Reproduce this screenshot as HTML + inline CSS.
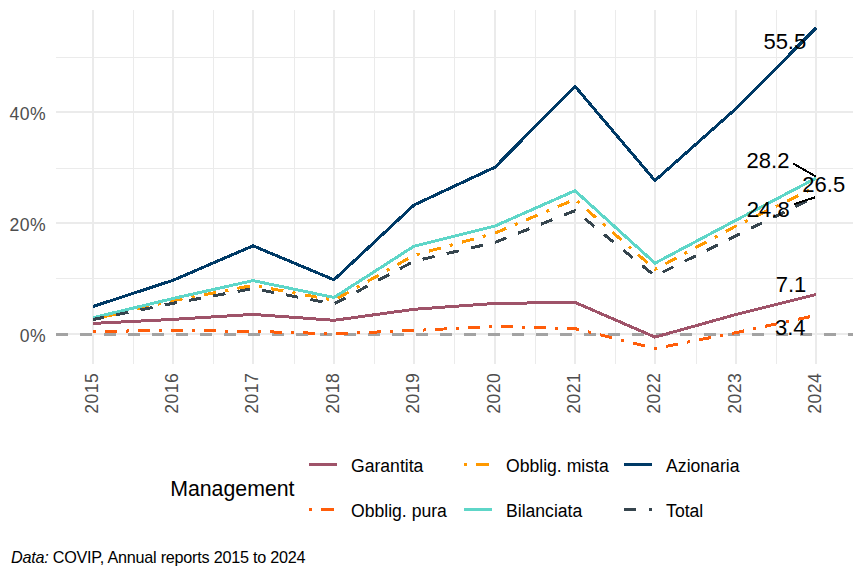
<!DOCTYPE html>
<html><head><meta charset="utf-8"><title>Cumulative returns by management line</title>
<style>html,body{margin:0;padding:0;background:#fff;}svg{display:block;}</style>
</head><body>
<svg width="864" height="576" viewBox="0 0 864 576"><g shape-rendering="crispEdges">
<rect width="864" height="576" fill="#ffffff"/>
<line x1="56" x2="853" y1="57.5" y2="57.5" stroke="#EBEBEB" stroke-width="1"/>
<line x1="56" x2="853" y1="168.5" y2="168.5" stroke="#EBEBEB" stroke-width="1"/>
<line x1="56" x2="853" y1="278.5" y2="278.5" stroke="#EBEBEB" stroke-width="1"/>
<line x1="133.50" x2="133.50" y1="10" y2="364" stroke="#EBEBEB" stroke-width="1"/>
<line x1="213.50" x2="213.50" y1="10" y2="364" stroke="#EBEBEB" stroke-width="1"/>
<line x1="294.50" x2="294.50" y1="10" y2="364" stroke="#EBEBEB" stroke-width="1"/>
<line x1="374.50" x2="374.50" y1="10" y2="364" stroke="#EBEBEB" stroke-width="1"/>
<line x1="454.50" x2="454.50" y1="10" y2="364" stroke="#EBEBEB" stroke-width="1"/>
<line x1="535.50" x2="535.50" y1="10" y2="364" stroke="#EBEBEB" stroke-width="1"/>
<line x1="615.50" x2="615.50" y1="10" y2="364" stroke="#EBEBEB" stroke-width="1"/>
<line x1="696.50" x2="696.50" y1="10" y2="364" stroke="#EBEBEB" stroke-width="1"/>
<line x1="776.50" x2="776.50" y1="10" y2="364" stroke="#EBEBEB" stroke-width="1"/>
<line x1="56" x2="853" y1="112.0" y2="112.0" stroke="#EBEBEB" stroke-width="2"/>
<line x1="56" x2="853" y1="223.0" y2="223.0" stroke="#EBEBEB" stroke-width="2"/>
<line x1="56" x2="853" y1="334.0" y2="334.0" stroke="#EBEBEB" stroke-width="2"/>
<line x1="93.00" x2="93.00" y1="10" y2="364" stroke="#EBEBEB" stroke-width="2"/>
<line x1="173.00" x2="173.00" y1="10" y2="364" stroke="#EBEBEB" stroke-width="2"/>
<line x1="253.00" x2="253.00" y1="10" y2="364" stroke="#EBEBEB" stroke-width="2"/>
<line x1="334.00" x2="334.00" y1="10" y2="364" stroke="#EBEBEB" stroke-width="2"/>
<line x1="414.00" x2="414.00" y1="10" y2="364" stroke="#EBEBEB" stroke-width="2"/>
<line x1="495.00" x2="495.00" y1="10" y2="364" stroke="#EBEBEB" stroke-width="2"/>
<line x1="575.00" x2="575.00" y1="10" y2="364" stroke="#EBEBEB" stroke-width="2"/>
<line x1="655.00" x2="655.00" y1="10" y2="364" stroke="#EBEBEB" stroke-width="2"/>
<line x1="736.00" x2="736.00" y1="10" y2="364" stroke="#EBEBEB" stroke-width="2"/>
<line x1="816.00" x2="816.00" y1="10" y2="364" stroke="#EBEBEB" stroke-width="2"/>
<line x1="56" x2="853" y1="334.5" y2="334.5" stroke="#A3A3A3" stroke-width="3" stroke-dasharray="12 12"/>
<polyline points="93.00,323.40 173.00,319.40 253.00,314.40 334.00,320.30 414.00,309.30 495.00,303.40 575.00,302.40 655.00,337.10 736.00,314.50 816.00,294.50" fill="none" stroke="#9F5369" stroke-width="3.0" stroke-linejoin="round" stroke-linecap="butt"/>
<line x1="93.00" y1="331.40" x2="173.00" y2="330.50" stroke="#FF5D0A" stroke-width="3.0" stroke-dasharray="3.000 9.001 12.001 9.001" stroke-dashoffset="0.000"/>
<line x1="173.00" y1="330.50" x2="253.00" y2="331.40" stroke="#FF5D0A" stroke-width="3.0" stroke-dasharray="3.000 9.001 12.001 9.001" stroke-dashoffset="14.001"/>
<line x1="253.00" y1="331.40" x2="334.00" y2="333.75" stroke="#FF5D0A" stroke-width="3.0" stroke-dasharray="3.001 9.004 12.005 9.004" stroke-dashoffset="28.012"/>
<line x1="334.00" y1="333.75" x2="414.00" y2="330.50" stroke="#FF5D0A" stroke-width="3.0" stroke-dasharray="3.002 9.007 12.010 9.007" stroke-dashoffset="10.008"/>
<line x1="414.00" y1="330.50" x2="495.00" y2="326.40" stroke="#FF5D0A" stroke-width="3.0" stroke-dasharray="3.004 9.012 12.015 9.012" stroke-dashoffset="24.031"/>
<line x1="495.00" y1="326.40" x2="575.00" y2="328.60" stroke="#FF5D0A" stroke-width="3.0" stroke-dasharray="3.001 9.003 12.005 9.003" stroke-dashoffset="6.002"/>
<line x1="575.00" y1="328.60" x2="655.00" y2="348.50" stroke="#FF5D0A" stroke-width="3.0" stroke-dasharray="3.091 9.274 12.366 9.274" stroke-dashoffset="20.609"/>
<line x1="655.00" y1="348.50" x2="736.00" y2="332.60" stroke="#FF5D0A" stroke-width="3.0" stroke-dasharray="3.057 9.172 12.229 9.172" stroke-dashoffset="1.019"/>
<line x1="736.00" y1="332.60" x2="816.00" y2="315.40" stroke="#FF5D0A" stroke-width="3.0" stroke-dasharray="3.069 9.206 12.274 9.206" stroke-dashoffset="16.366"/>
<polyline points="93.00,319.30 173.00,300.70 253.00,285.40 334.00,300.30 414.00,255.30 495.00,233.10 575.00,199.30 655.00,269.40 736.00,226.00 816.00,187.00" fill="none" stroke="#FF9900" stroke-width="3.0" stroke-linejoin="round" stroke-linecap="butt" stroke-dasharray="3.11 9.33 12.44 9.33" stroke-dashoffset="1.55"/>
<polyline points="93.00,317.70 173.00,298.50 253.00,280.60 334.00,297.50 414.00,246.20 495.00,226.00 575.00,190.70 655.00,263.20 736.00,220.20 816.00,178.20" fill="none" stroke="#5ED6C8" stroke-width="3.0" stroke-linejoin="round" stroke-linecap="butt"/>
<polyline points="93.00,306.50 173.00,280.30 253.00,245.80 334.00,279.80 414.00,205.00 495.00,167.20 575.00,86.30 655.00,180.60 736.00,108.60 816.00,27.90" fill="none" stroke="#003A66" stroke-width="3.0" stroke-linejoin="round" stroke-linecap="butt"/>
<polyline points="93.00,319.50 173.00,303.30 253.00,288.60 334.00,304.00 414.00,261.20 495.00,242.40 575.00,210.70 655.00,276.00 736.00,235.70 816.00,196.50" fill="none" stroke="#36454E" stroke-width="3.0" stroke-linejoin="round" stroke-linecap="butt" stroke-dasharray="12.36 12.36" stroke-dashoffset="1.05"/>
<line x1="793.3" y1="163.6" x2="815.6" y2="176.4" stroke="#000" stroke-width="2"/>
<line x1="794.2" y1="204.0" x2="815.3" y2="197.3" stroke="#000" stroke-width="2"/>
<text x="763.4" y="49.3" font-family="'Liberation Sans', Arial, sans-serif" font-size="22" fill="#000">55.5</text>
<text x="746.6" y="167.8" font-family="'Liberation Sans', Arial, sans-serif" font-size="22" fill="#000">28.2</text>
<text x="802.3" y="192.3" font-family="'Liberation Sans', Arial, sans-serif" font-size="22" fill="#000">26.5</text>
<text x="746.8" y="217.3" font-family="'Liberation Sans', Arial, sans-serif" font-size="22" fill="#000">24.8</text>
<text x="775.7" y="291.7" font-family="'Liberation Sans', Arial, sans-serif" font-size="22" fill="#000">7.1</text>
<text x="775.0" y="335.1" font-family="'Liberation Sans', Arial, sans-serif" font-size="22" fill="#000">3.4</text>
<text x="46.0" y="119.7" font-family="'Liberation Sans', Arial, sans-serif" font-size="17.6" letter-spacing="0.4" fill="#4D4D4D" text-anchor="end">40%</text>
<text x="46.0" y="230.7" font-family="'Liberation Sans', Arial, sans-serif" font-size="17.6" letter-spacing="0.4" fill="#4D4D4D" text-anchor="end">20%</text>
<text x="46.0" y="341.7" font-family="'Liberation Sans', Arial, sans-serif" font-size="17.6" letter-spacing="0.4" fill="#4D4D4D" text-anchor="end">0%</text>
<text transform="translate(97.60,372.9) rotate(-90)" font-family="'Liberation Sans', Arial, sans-serif" font-size="17.6" letter-spacing="0.4" fill="#4D4D4D" text-anchor="end">2015</text>
<text transform="translate(177.60,372.9) rotate(-90)" font-family="'Liberation Sans', Arial, sans-serif" font-size="17.6" letter-spacing="0.4" fill="#4D4D4D" text-anchor="end">2016</text>
<text transform="translate(257.60,372.9) rotate(-90)" font-family="'Liberation Sans', Arial, sans-serif" font-size="17.6" letter-spacing="0.4" fill="#4D4D4D" text-anchor="end">2017</text>
<text transform="translate(338.60,372.9) rotate(-90)" font-family="'Liberation Sans', Arial, sans-serif" font-size="17.6" letter-spacing="0.4" fill="#4D4D4D" text-anchor="end">2018</text>
<text transform="translate(418.60,372.9) rotate(-90)" font-family="'Liberation Sans', Arial, sans-serif" font-size="17.6" letter-spacing="0.4" fill="#4D4D4D" text-anchor="end">2019</text>
<text transform="translate(499.60,372.9) rotate(-90)" font-family="'Liberation Sans', Arial, sans-serif" font-size="17.6" letter-spacing="0.4" fill="#4D4D4D" text-anchor="end">2020</text>
<text transform="translate(579.60,372.9) rotate(-90)" font-family="'Liberation Sans', Arial, sans-serif" font-size="17.6" letter-spacing="0.4" fill="#4D4D4D" text-anchor="end">2021</text>
<text transform="translate(659.60,372.9) rotate(-90)" font-family="'Liberation Sans', Arial, sans-serif" font-size="17.6" letter-spacing="0.4" fill="#4D4D4D" text-anchor="end">2022</text>
<text transform="translate(740.60,372.9) rotate(-90)" font-family="'Liberation Sans', Arial, sans-serif" font-size="17.6" letter-spacing="0.4" fill="#4D4D4D" text-anchor="end">2023</text>
<text transform="translate(820.60,372.9) rotate(-90)" font-family="'Liberation Sans', Arial, sans-serif" font-size="17.6" letter-spacing="0.4" fill="#4D4D4D" text-anchor="end">2024</text>
<text x="170.2" y="495.9" font-family="'Liberation Sans', Arial, sans-serif" font-size="21.3" fill="#000">Management</text>
<line x1="309.0" x2="337.0" y1="464.4" y2="464.4" stroke="#9F5369" stroke-width="2.9"/>
<text x="351.0" y="471.5" font-family="'Liberation Sans', Arial, sans-serif" font-size="17.6" fill="#000">Garantita</text>
<line x1="464.0" x2="492.0" y1="464.4" y2="464.4" stroke="#FF9900" stroke-width="2.9" stroke-dasharray="3.11 9.33 12.44 9.33"/>
<text x="506.0" y="471.5" font-family="'Liberation Sans', Arial, sans-serif" font-size="17.6" fill="#000">Obblig. mista</text>
<line x1="624.1" x2="652.1" y1="464.4" y2="464.4" stroke="#003A66" stroke-width="2.9"/>
<text x="666.1" y="471.5" font-family="'Liberation Sans', Arial, sans-serif" font-size="17.6" fill="#000">Azionaria</text>
<line x1="309.0" x2="337.0" y1="509.5" y2="509.5" stroke="#FF5D0A" stroke-width="2.9" stroke-dasharray="3.09 9.27 12.36 9.27"/>
<text x="351.0" y="516.6" font-family="'Liberation Sans', Arial, sans-serif" font-size="17.6" fill="#000">Obblig. pura</text>
<line x1="464.0" x2="492.0" y1="509.5" y2="509.5" stroke="#5ED6C8" stroke-width="2.9"/>
<text x="506.0" y="516.6" font-family="'Liberation Sans', Arial, sans-serif" font-size="17.6" fill="#000">Bilanciata</text>
<line x1="624.1" x2="652.1" y1="509.5" y2="509.5" stroke="#36454E" stroke-width="2.9" stroke-dasharray="12.36 12.36"/>
<text x="666.1" y="516.6" font-family="'Liberation Sans', Arial, sans-serif" font-size="17.6" fill="#000">Total</text>
<text x="11" y="562.7" font-family="'Liberation Sans', Arial, sans-serif" font-size="16.2" letter-spacing="-0.24" fill="#000"><tspan font-style="italic">Data:</tspan> COVIP, Annual reports 2015 to 2024</text>
</g></svg>
</body></html>
